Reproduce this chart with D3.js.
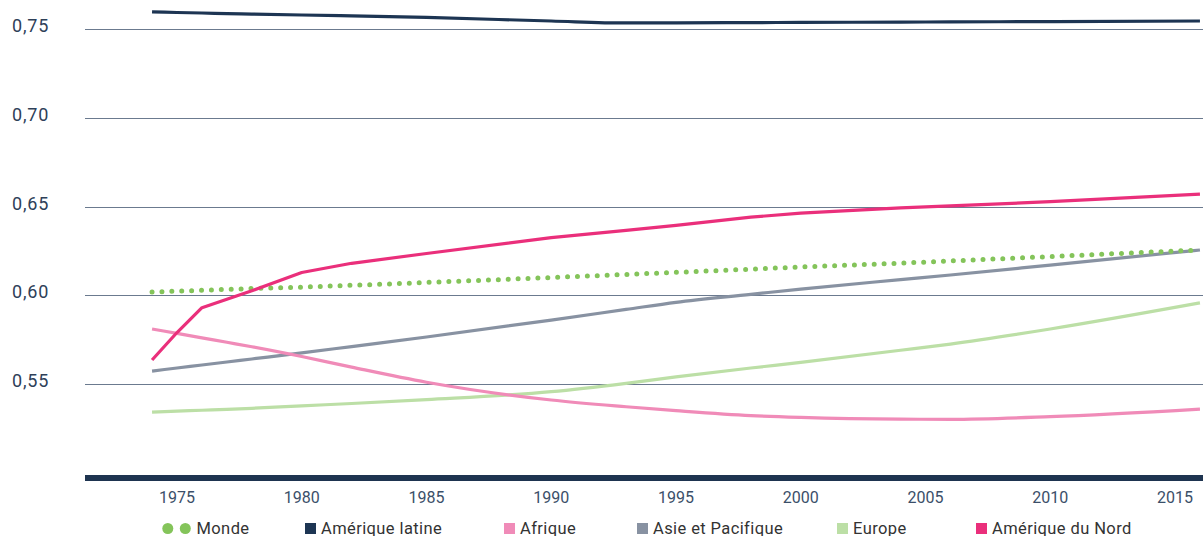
<!DOCTYPE html>
<html>
<head>
<meta charset="utf-8">
<script src="https://cdn.jsdelivr.net/npm/d3@7/dist/d3.min.js"></script>
<style>
  html, body { margin: 0; padding: 0; background: #fff; }
  svg { display: block; font-family: Roboto, "DejaVu Sans", sans-serif; }
</style>
</head>
<body>
<svg id="chart" width="1203" height="536"></svg>
<script>
// Indicator by region, 1974–2016
const years = [1974, 1975, 1976, 1977, 1978, 1980, 1982, 1985, 1990, 1993, 1995, 1998, 2000, 2004, 2006, 2010, 2016];

const monde          = [0.6018, 0.6023, 0.6028, 0.6033, 0.6038, 0.6046, 0.6056, 0.6072, 0.6100, 0.6117, 0.6129, 0.6147, 0.6159, 0.6181, 0.6193, 0.6218, 0.6255];
const ameriqueLatine = [0.7596, 0.7593, 0.7590, 0.7587, 0.7584, 0.7579, 0.7574, 0.7565, 0.7545, 0.7534, 0.7535, 0.7536, 0.7537, 0.7539, 0.7540, 0.7542, 0.7545];
const afrique        = [0.5810, 0.5785, 0.5760, 0.5735, 0.5710, 0.5655, 0.5595, 0.5510, 0.5410, 0.5372, 0.5350, 0.5322, 0.5312, 0.5302, 0.5301, 0.5316, 0.5359];
const asie           = [0.5573, 0.5590, 0.5607, 0.5624, 0.5641, 0.5675, 0.5711, 0.5765, 0.5860, 0.5920, 0.5960, 0.6005, 0.6035, 0.6088, 0.6114, 0.6170, 0.6255];
const europe         = [0.5342, 0.5347, 0.5352, 0.5357, 0.5363, 0.5377, 0.5390, 0.5412, 0.5457, 0.5504, 0.5540, 0.5590, 0.5622, 0.5690, 0.5725, 0.5810, 0.5957];
const ameriqueNord   = [0.5635, 0.5790, 0.5930, 0.5978, 0.6025, 0.6128, 0.6180, 0.6235, 0.6325, 0.6365, 0.6394, 0.6440, 0.6463, 0.6492, 0.6503, 0.6527, 0.6570];

const yTicks = [0.55, 0.60, 0.65, 0.70, 0.75];
const xTicks = [1975, 1980, 1985, 1990, 1995, 2000, 2005, 2010, 2015];

const series = [
  { name: "Monde",             values: monde,          color: "#84c45a", dotted: true },
  { name: "Amérique latine",   values: ameriqueLatine, color: "#1d3553" },
  { name: "Afrique",           values: afrique,        color: "#f08bb8" },
  { name: "Asie et Pacifique", values: asie,           color: "#8892a2" },
  { name: "Europe",            values: europe,         color: "#bcdfa6" },
  { name: "Amérique du Nord",  values: ameriqueNord,   color: "#ea2f7b", straight: true }
];

const svg = d3.select("#chart");

const x = d3.scaleLinear().domain([1975, 2015]).range([177, 1175]);
const y = d3.scaleLinear().domain([0.55, 0.75]).range([384, 29]);

// Horizontal gridlines
svg.append("g")
  .selectAll("line")
  .data(yTicks)
  .join("line")
  .attr("x1", 85).attr("x2", 1203)
  .attr("y1", d => Math.round(y(d)) + 0.5)
  .attr("y2", d => Math.round(y(d)) + 0.5)
  .attr("stroke", "#6b7a8f")
  .attr("stroke-width", 1.2);

// Y labels
svg.append("g")
  .selectAll("text")
  .data(yTicks)
  .join("text")
  .attr("x", 12)
  .attr("y", d => y(d) + 3)
  .attr("fill", "#2e4058")
  .attr("font-size", 18)
  .attr("letter-spacing", 0.8)
  .text(d => d3.format(".2f")(d).replace(".", ","));

// Base bar
svg.append("rect")
  .attr("x", 85).attr("y", 475)
  .attr("width", 1118).attr("height", 6)
  .attr("fill", "#1e3450");

// X labels
svg.append("g")
  .selectAll("text")
  .data(xTicks)
  .join("text")
  .attr("x", d => x(d))
  .attr("y", 503)
  .attr("text-anchor", "middle")
  .attr("fill", "#3b4f69")
  .attr("font-size", 16)
  .text(d => d);

// Lines
const lineFor = s => d3.line()
  .x((d, i) => x(years[i]))
  .y(d => y(d))
  .curve(s.straight ? d3.curveLinear : d3.curveMonotoneX);

const drawOrder = ["Asie et Pacifique", "Europe", "Afrique", "Amérique latine", "Monde", "Amérique du Nord"];
drawOrder.forEach(n => {
  const s = series.find(t => t.name === n);
  const p = svg.append("path")
    .attr("d", lineFor(s)(s.values))
    .attr("fill", "none")
    .attr("stroke", s.color)
    .attr("stroke-linejoin", "round");
  if (s.dotted) {
    p.attr("stroke-width", 5)
     .attr("stroke-linecap", "round")
     .attr("stroke-dasharray", "0 9.9");
  } else {
    p.attr("stroke-width", 3.2);
  }
});

// Legend
const legendX = [162, 305, 504, 637, 837, 976];
const legend = svg.append("g");
series.forEach((s, i) => {
  const g = legend.append("g").attr("transform", `translate(${legendX[i]},528.5)`);
  let tx;
  if (s.dotted) {
    g.append("circle").attr("cx", 5.8).attr("cy", 0).attr("r", 5.5).attr("fill", s.color);
    g.append("circle").attr("cx", 23.3).attr("cy", 0).attr("r", 5.5).attr("fill", s.color);
    tx = 34.5;
  } else {
    g.append("rect").attr("x", 0).attr("y", -5.5).attr("width", 11).attr("height", 11).attr("fill", s.color);
    tx = 16;
  }
  g.append("text")
    .attr("x", tx).attr("y", 5)
    .attr("fill", "#333")
    .attr("font-size", 16.5)
    .attr("letter-spacing", 0.4)
    .text(s.name);
});
</script>
</body>
</html>
